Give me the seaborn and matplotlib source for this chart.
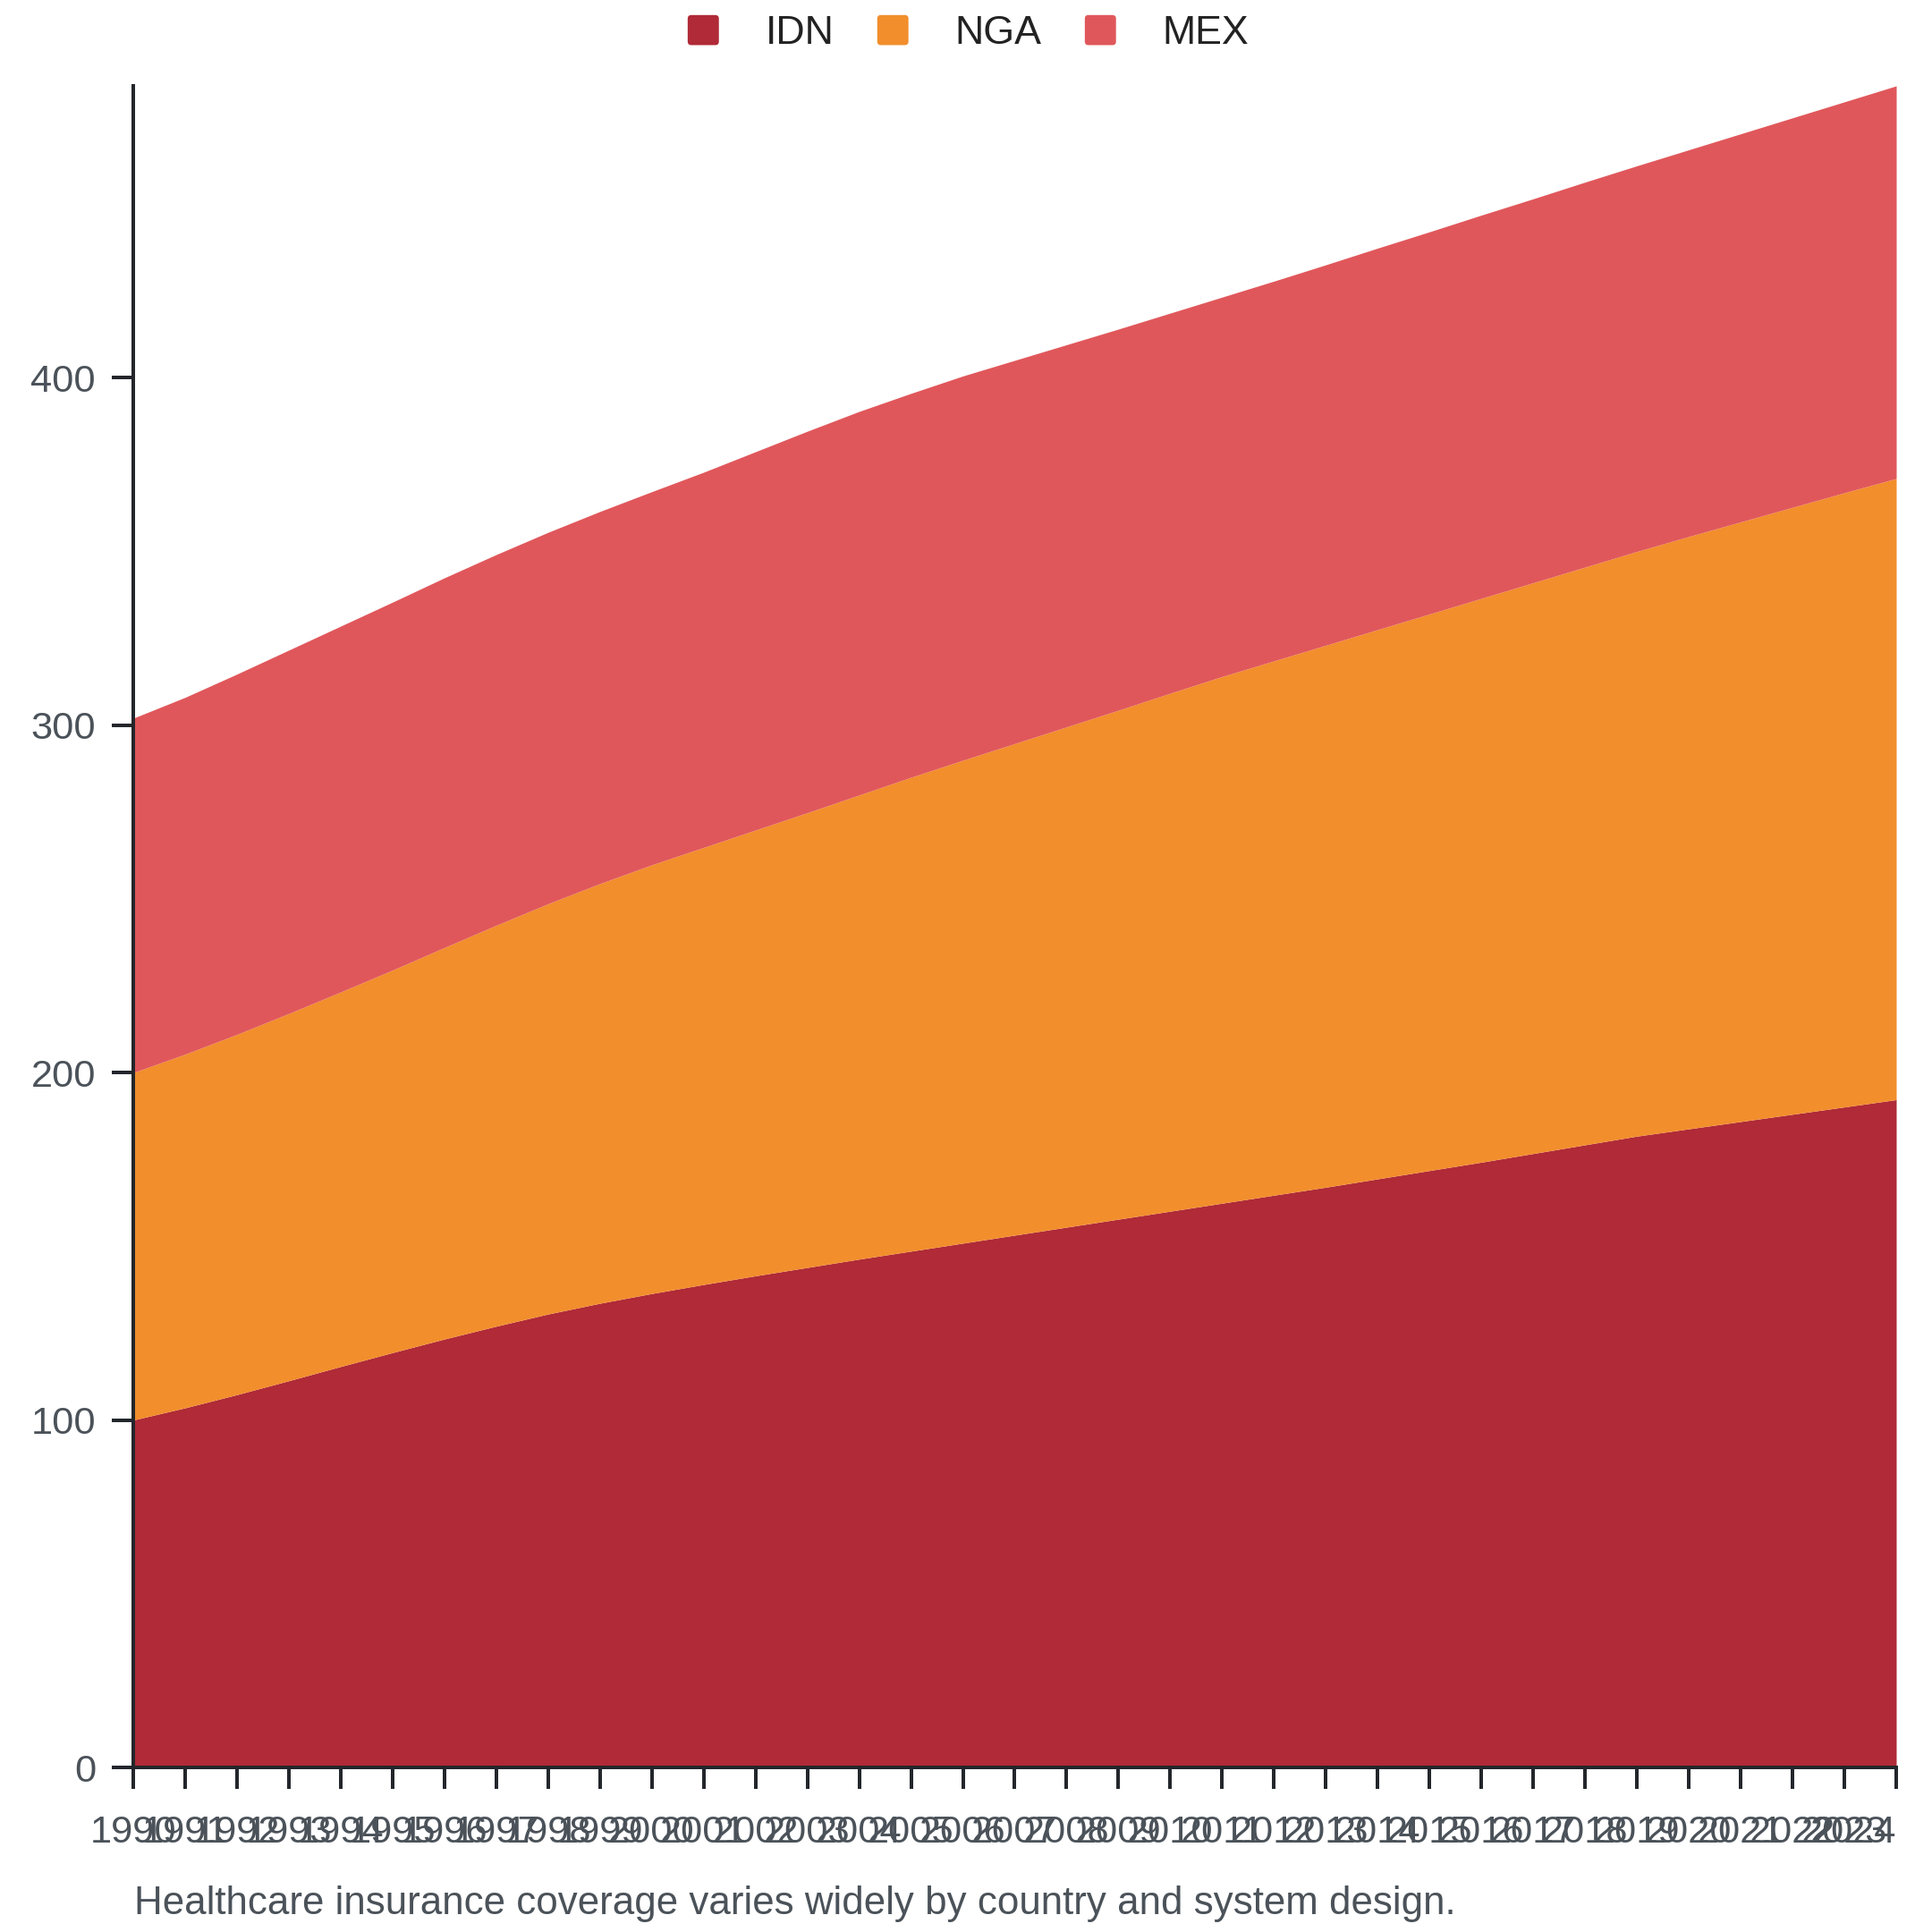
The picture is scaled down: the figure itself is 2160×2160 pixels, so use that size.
import numpy as np
import pandas as pd
import matplotlib
matplotlib.use("Agg")
import matplotlib.pyplot as plt
import seaborn as sns
from matplotlib.patches import Patch, FancyBboxPatch
from matplotlib.legend_handler import HandlerPatch

# ---------------- data ----------------
years = list(range(1990, 2025))
countries = ["IDN", "NGA", "MEX"]
colors = ["#b02a37", "#f28e2c", "#e0575b"]

idn = [100.0, 103.5, 107.3, 111.3, 115.4, 119.4, 123.3, 127.0, 130.5, 133.6,
       136.4, 139.0, 141.5, 143.9, 146.3, 148.6, 150.9, 153.2, 155.5, 157.8,
       160.1, 162.4, 164.7, 167.0, 169.4, 171.8, 174.2, 176.7, 179.2, 181.7,
       183.8, 185.9, 188.0, 190.1, 192.2]
nga = [100.0, 101.8, 103.7, 105.7, 107.8, 110.1, 112.7, 115.4, 118.1, 120.8,
       123.4, 125.8, 128.3, 130.9, 133.6, 136.4, 139.0, 141.5, 144.0, 146.5,
       149.1, 151.6, 153.8, 156.0, 158.1, 160.2, 162.3, 164.3, 166.3, 168.3,
       170.5, 172.6, 174.7, 176.8, 178.8]
mex = [102.0, 102.7, 103.7, 104.6, 105.3, 105.9, 106.4, 106.7, 106.9, 107.1,
       107.4, 108.0, 108.9, 109.8, 110.4, 110.5, 110.6, 110.3, 110.0, 109.7,
       109.4, 109.2, 109.3, 109.5, 109.8, 110.0, 110.3, 110.5, 110.8, 111.0,
       111.3, 111.7, 112.1, 112.5, 113.0]
caption = "Healthcare insurance coverage varies widely by country and system design."

df = pd.DataFrame({
    "year": years * 3,
    "country": sum([[c] * len(years) for c in countries], []),
    "value": idn + nga + mex,
})

# ---------------- style ----------------
sns.set_theme(style="ticks")
plt.rcParams["font.family"] = ["Liberation Sans", "DejaVu Sans"]

W = 2160
fig = plt.figure(figsize=(10.8, 10.8), dpi=200)
left, right, bottom_px, top_px = 149, 2120, 1976, 96
ax = fig.add_axes([left / W, (W - bottom_px) / W, (right - left) / W, (bottom_px - top_px) / W])

# stacked area: seaborn stacks hue levels in reverse order (last level at bottom)
hue_order = countries[::-1]
pal = dict(zip(countries, colors))
sns.histplot(data=df, x="year", weights="value", hue="country", hue_order=hue_order,
             multiple="stack", element="poly", discrete=True, palette=pal,
             alpha=1, linewidth=0, legend=False, ax=ax)

total = np.array(idn) + np.array(nga) + np.array(mex)
ax.set_xlim(years[0], years[-1])
ax.set_ylim(0, total.max())
ax.set_xticks(years)
ax.set_xticklabels([str(y) for y in years])
ax.set_yticks([0, 100, 200, 300, 400])
ax.set_xlabel("")
ax.set_ylabel("")

dark = "#23262b"
grey = "#4b5259"
for s in ["top", "right"]:
    ax.spines[s].set_visible(False)
for s in ["left", "bottom"]:
    ax.spines[s].set_color(dark)
    ax.spines[s].set_linewidth(1.44)
ax.tick_params(axis="both", length=8.6, width=1.44, color=dark,
               labelcolor=grey, labelsize=15.6)
ax.tick_params(axis="x", pad=10.4)
ax.tick_params(axis="y", pad=6.5)
# last label kept inside the figure, ending at its tick
ax.get_xticklabels()[-1].set_horizontalalignment("right")


class RoundHandler(HandlerPatch):
    def create_artists(self, legend, orig_handle, xdescent, ydescent,
                       width, height, fontsize, trans):
        p = FancyBboxPatch((-xdescent, -ydescent), width, height,
                           boxstyle="round,pad=0,rounding_size=%f" % (height * 0.12),
                           facecolor=orig_handle.get_facecolor(), edgecolor="none",
                           transform=trans)
        return [p]


handles = [Patch(facecolor=pal[c], edgecolor="none") for c in countries]
fig.legend(handles, countries, loc="center", bbox_to_anchor=(0.5012, 1 - 37.5 / W),
           ncol=3, frameon=False, fontsize=16.1, handlelength=0.78, handleheight=0.78,
           handletextpad=1.16, columnspacing=1.08, labelcolor="#222222",
           borderaxespad=0, borderpad=0,
           handler_map={Patch: RoundHandler()})

fig.text(150 / W, 20 / W, caption, fontsize=15.8, color=grey, va="baseline", ha="left")

fig.savefig("out.png", dpi=200)
